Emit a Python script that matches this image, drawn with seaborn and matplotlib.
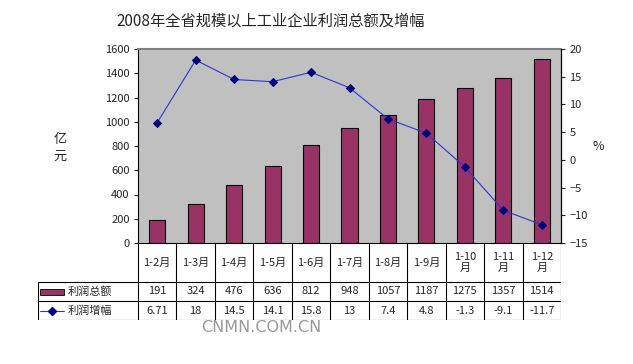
import numpy as np
import pandas as pd
import matplotlib
matplotlib.use("Agg")
import matplotlib.pyplot as plt
import seaborn as sns
from matplotlib.patches import Rectangle
from matplotlib.lines import Line2D

categories = ["1-2月", "1-3月", "1-4月", "1-5月", "1-6月", "1-7月", "1-8月",
              "1-9月", "1-10\n月", "1-11\n月", "1-12\n月"]
profit_total = [191, 324, 476, 636, 812, 948, 1057, 1187, 1275, 1357, 1514]
profit_growth = [6.71, 18, 14.5, 14.1, 15.8, 13, 7.4, 4.8, -1.3, -9.1, -11.7]
growth_labels = ["6.71", "18", "14.5", "14.1", "15.8", "13", "7.4", "4.8", "-1.3", "-9.1", "-11.7"]
series_names = ["利润总额", "利润增幅"]
title = "2008年全省规模以上工业企业利润总额及增幅"

sns.set_style("white")
plt.rcParams['font.family'] = ['Noto Sans CJK SC', 'DejaVu Sans']

W, H = 633, 364
fig = plt.figure(figsize=(W / 100, H / 100), dpi=100)

def fx(px):
    return px / W

def fy(py):
    return 1 - py / H

L, R, T, B = 138, 561, 49, 243
ax = fig.add_axes([fx(L), fy(B), fx(R - L), (B - T) / H])
ax.set_facecolor("#C0C0C0")

BAR = "#993366"
df = pd.DataFrame({"cat": categories, "total": profit_total, "growth": profit_growth})
sns.barplot(data=df, x="cat", y="total", ax=ax, color=BAR, width=0.42,
            edgecolor="black", linewidth=0.8, saturation=1)
ax.set_xlim(-0.5, len(categories) - 0.5)
ax.set_ylim(0, 1600)
ax.set_yticks(range(0, 1601, 200))
ax.set_xticks([])
ax.set_xlabel("")
ax.set_ylabel("")
ax.tick_params(axis="y", labelsize=8, length=3, direction="out", left=True, pad=3)
for s in ["left", "bottom", "right"]:
    ax.spines[s].set_color("black")
    ax.spines[s].set_linewidth(0.8)
ax.spines["top"].set_color("#808080")
ax.spines["top"].set_linewidth(1.5)

ax2 = ax.twinx()
sns.lineplot(x=np.arange(len(categories)), y=df["growth"], ax=ax2, color="#3333CC",
             linewidth=0.8, marker="D", markersize=4.5, markerfacecolor="#000080",
             markeredgecolor="#000080")
ax2.set_ylim(-15, 20)
ax2.set_yticks(range(-15, 21, 5))
ax2.set_ylabel("")
ax2.tick_params(axis="y", labelsize=8, length=3, direction="out", right=True, pad=3)
ax2.spines["right"].set_color("black")
ax2.spines["right"].set_linewidth(0.8)
ax2.spines["top"].set_visible(False)
ax2.spines["left"].set_visible(False)
ax2.spines["bottom"].set_visible(False)
ax.set_xlim(-0.5, len(categories) - 0.5)

# axis unit labels
fig.text(fx(60), fy(148), "亿\n元", ha="center", va="center", fontsize=9.5, linespacing=1.3)
fig.text(fx(598), fy(147), "%", ha="center", va="center", fontsize=9)
fig.text(fx(271), fy(21), title, ha="center", va="center", fontsize=11)

# data table
TL, TB = 38, 320
n = len(categories)
cw = (R - L) / n
head = (L - TL) / cw
tab = fig.add_axes([fx(TL), fy(TB), fx(R - TL), (TB - B) / H])
tab.set_xlim(-0.5 - head, n - 0.5)
tab.set_ylim(0, TB - B)
tab.axis("off")
r1, r2, top = 19, 38, TB - B
lk = dict(color="black", linewidth=0.8)
for k in range(n + 1):
    tab.add_line(Line2D([k - 0.5, k - 0.5], [0, top], **lk))
tab.add_line(Line2D([-0.5 - head, -0.5 - head], [0, r2], **lk))
for yy in [0, r1, r2]:
    tab.add_line(Line2D([-0.5 - head, n - 0.5], [yy, yy], **lk))
for i, c in enumerate(categories):
    tab.text(i, (r2 + top) / 2, c, ha="center", va="center", fontsize=8, linespacing=1.1)
    tab.text(i, (r1 + r2) / 2, str(profit_total[i]), ha="center", va="center", fontsize=8)
    tab.text(i, r1 / 2, growth_labels[i], ha="center", va="center", fontsize=8)
x0 = -0.5 - head
kx0 = x0 + 2 / cw
kx1 = x0 + 26 / cw
tab.add_patch(Rectangle((kx0, (r1 + r2) / 2 - 3), kx1 - kx0, 6, facecolor=BAR, edgecolor="black", linewidth=0.6))
tab.add_line(Line2D([kx0, kx1], [r1 / 2, r1 / 2], color="#3333CC", linewidth=0.8))
tab.plot([(kx0 + kx1) / 2], [r1 / 2], marker="D", markersize=4, color="#000080")
tab.text(x0 + 30 / cw, (r1 + r2) / 2, series_names[0], ha="left", va="center", fontsize=8)
tab.text(x0 + 30 / cw, r1 / 2, series_names[1], ha="left", va="center", fontsize=8)

fig.text(fx(261), fy(328), "CNMN.COM.CN", ha="center", va="center", fontsize=11.5,
         color="#999999", family="DejaVu Sans")

fig.savefig("out.png", dpi=100)
